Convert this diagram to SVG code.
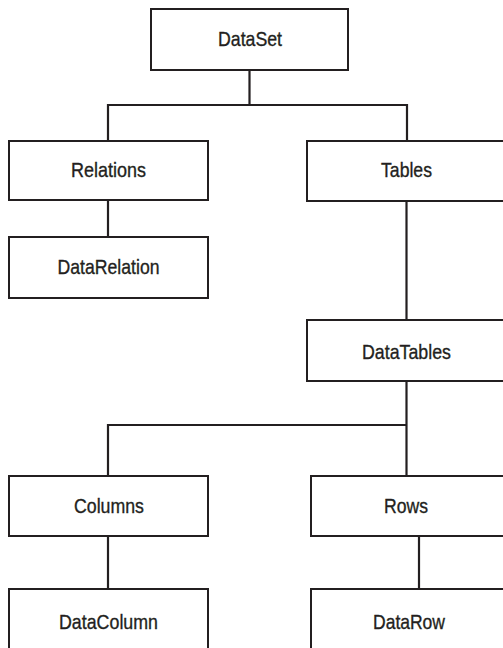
<svg xmlns="http://www.w3.org/2000/svg" width="503" height="648" viewBox="0 0 503 648">
<style>
.box{fill:#ffffff;stroke:#231f20;stroke-width:2}
.lbl{font-family:"Liberation Sans Narrow","Liberation Sans",Arial,sans-serif;font-size:21px;fill:#231f20;stroke:#231f20;stroke-width:0.35;text-anchor:middle}
.conn{fill:none;stroke:#231f20;stroke-width:2.2}
</style>
<rect width="503" height="648" fill="#ffffff"/>
<g id="connectors">
<path class="conn" d="M249.5,70 V105 M108,105 H407 M108,104 V141 M407,104 V141"/>
<path class="conn" d="M108,200 V237"/>
<path class="conn" d="M406.5,201 V320"/>
<path class="conn" d="M406.5,381 V476 M108,425 H407.5 M108,424 V476"/>
<path class="conn" d="M108,536 V589"/>
<path class="conn" d="M419,536 V589"/>
</g>
<g id="DataSet"><rect class="box" x="151" y="9" width="197" height="61"/><text class="lbl" x="250" y="46" textLength="64" lengthAdjust="spacingAndGlyphs">DataSet</text></g>
<g id="Relations"><rect class="box" x="9" y="141" width="199" height="59"/><text class="lbl" x="108.5" y="177" textLength="75" lengthAdjust="spacingAndGlyphs">Relations</text></g>
<g id="DataRelation"><rect class="box" x="9" y="237" width="199" height="61"/><text class="lbl" x="108.5" y="274" textLength="102" lengthAdjust="spacingAndGlyphs">DataRelation</text></g>
<g id="Tables"><rect class="box" x="307" y="141" width="199" height="60"/><text class="lbl" x="406.5" y="177" textLength="51" lengthAdjust="spacingAndGlyphs">Tables</text></g>
<g id="DataTables"><rect class="box" x="307" y="320" width="199" height="61"/><text class="lbl" x="406.5" y="359" textLength="89" lengthAdjust="spacingAndGlyphs">DataTables</text></g>
<g id="Columns"><rect class="box" x="9" y="476" width="199" height="60"/><text class="lbl" x="109" y="513" textLength="70" lengthAdjust="spacingAndGlyphs">Columns</text></g>
<g id="Rows"><rect class="box" x="311" y="476" width="199" height="60"/><text class="lbl" x="406" y="513" textLength="44" lengthAdjust="spacingAndGlyphs">Rows</text></g>
<g id="DataColumn"><rect class="box" x="9" y="589" width="199" height="65"/><text class="lbl" x="108.5" y="629" textLength="99" lengthAdjust="spacingAndGlyphs">DataColumn</text></g>
<g id="DataRow"><rect class="box" x="311" y="589" width="199" height="65"/><text class="lbl" x="409" y="629" textLength="72" lengthAdjust="spacingAndGlyphs">DataRow</text></g>
</svg>
